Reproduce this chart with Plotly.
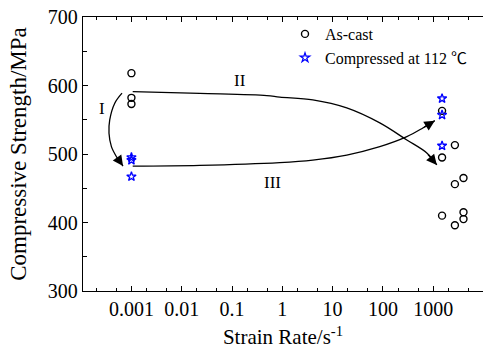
import numpy as np
import plotly.graph_objects as go

# ---- data ----
ascast_rate = [0.001, 0.001, 0.001, 1500, 2700, 1500, 2700, 4000, 1500, 2700, 4000, 4000]
ascast_strength = [618, 582, 573, 563, 513, 495, 456, 465, 410, 396, 415, 405]
comp_rate = [0.001, 0.001, 0.001, 1500, 1500, 1500]
comp_strength = [495, 491, 467, 581, 557, 512]

# guide curves (data coordinates)
curveI_x = [0.00065, 0.000466, 0.00037, 0.000358, 0.0004, 0.000504, 0.000681]
curveI_y = [588.8, 574.2, 549.7, 530.3, 510.7, 496, 482.4]
curveII_x = [0.00106, 0.0228, 0.491, 0.889, 4.04, 19.1, 86.7, 299, 746, 1180]
curveII_y = [591.1, 588.5, 585.3, 583, 579, 567.3, 545.4, 520.5, 501.5, 484]
curveIII_x = [0.00106, 0.0228, 0.889, 4.04, 19.1, 86.7, 299, 622, 1077]
curveIII_y = [482.4, 483.5, 487.5, 491.2, 498.5, 510.7, 525.3, 538, 548.7]

labels = ["I", "II", "III"]
label_x = [10**-3.59, 10**-0.846, 10**-0.19]
label_y = [567, 608, 459]

x_tickvals = [0.001, 0.01, 0.1, 1, 10, 100, 1000]
x_ticktext = ["0.001", "0.01", "0.1", "1", "10", "100", "1000"]

FONT = "Liberation Serif, Times New Roman, serif"

fig = go.Figure()
for cx, cy in [(curveI_x, curveI_y), (curveII_x, curveII_y), (curveIII_x, curveIII_y)]:
    fig.add_trace(go.Scatter(x=cx, y=cy, mode="lines", line=dict(color="black", width=1.3, shape="spline"),
                             showlegend=False, hoverinfo="skip"))
    fig.add_annotation(x=np.log10(cx[-1]), y=cy[-1], ax=np.log10(cx[-2]), ay=cy[-2],
                       xref="x", yref="y", axref="x", ayref="y", text="", showarrow=True,
                       arrowhead=2, arrowsize=1.6, arrowwidth=1.3, arrowcolor="black")

fig.add_trace(go.Scatter(x=ascast_rate, y=ascast_strength, mode="markers", name="As-cast",
                         marker=dict(symbol="circle-open", size=7, color="black", line=dict(width=1.4))))
fig.add_trace(go.Scatter(x=comp_rate, y=comp_strength, mode="markers",
                         name="Compressed at 112 <span style=\"font-family:'Noto Sans CJK SC'\">℃</span>",
                         marker=dict(symbol="star-open", size=7, color="#0000ff", line=dict(width=1.3))))

for t, lx, ly in zip(labels, label_x, label_y):
    fig.add_annotation(x=np.log10(lx), y=ly, text=t, showarrow=False, font=dict(family=FONT, size=17, color="black"))

fig.update_layout(
    width=483, height=356,
    margin=dict(l=83, r=0, t=17, b=65),
    paper_bgcolor="white", plot_bgcolor="white",
    font=dict(family=FONT, color="black"),
    legend=dict(x=0.505, y=1.0, xanchor="left", yanchor="top", bgcolor="rgba(0,0,0,0)",
                font=dict(family=FONT, size=16), tracegroupgap=0, itemwidth=30),
    xaxis=dict(type="log", range=[-3.963, 3.99], tickvals=x_tickvals, ticktext=x_ticktext,
               showgrid=False, zeroline=False, showline=True, linecolor="black", linewidth=1.3,
               ticks="inside", ticklen=5, tickwidth=1.2, tickcolor="black", mirror="allticks",
               tickfont=dict(family=FONT, size=20),
               minor=dict(ticks="inside", ticklen=3, tickwidth=1, tickcolor="black", showgrid=False),
               title=dict(text="Strain Rate/s<sup>-1</sup>", font=dict(family=FONT, size=21), standoff=10)),
    yaxis=dict(range=[300, 700], dtick=100, showgrid=False, zeroline=False, showline=True,
               linecolor="black", linewidth=1.3, ticks="inside", ticklen=5, tickwidth=1.2, tickcolor="black",
               tickfont=dict(family=FONT, size=20),
               minor=dict(ticks="inside", dtick=50, ticklen=4, tickwidth=1, tickcolor="black", showgrid=False),
               title=dict(text="Compressive Strength/MPa", font=dict(family=FONT, size=23), standoff=14)),
)

fig.write_html("out.html")
